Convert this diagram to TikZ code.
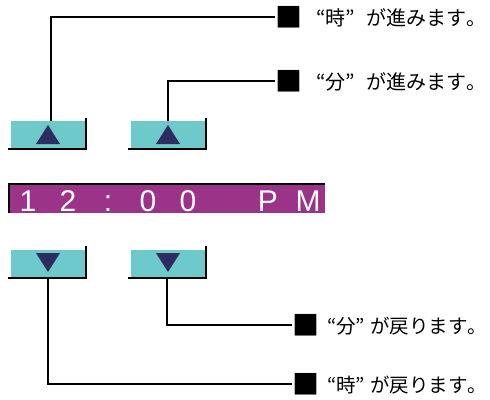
\documentclass[tikz,border=0pt]{standalone}
\usepackage{fontspec}
\setmainfont{Liberation Sans}
\newfontfamily\jpfont{Noto Sans CJK JP}
\newfontfamily\jphalt[RawFeature=+halt]{Noto Sans CJK JP}
\definecolor{btnteal}{RGB}{110,202,202}
\definecolor{tri}{RGB}{46,45,98}
\definecolor{lcd}{RGB}{155,52,137}
\newcommand\jplabel[3][0pt]{\raisebox{-2pt}{\fontsize{27}{27}\selectfont■}\hspace{\dimexpr10pt+#1\relax}“#2”\hspace{\dimexpr7pt+#1\relax}#3{\jphalt 。}}
\begin{document}
\begin{tikzpicture}[x=1pt,y=-1pt,
  btn/.style={draw=none,fill=btnteal,minimum width=74pt,minimum height=27pt,inner sep=0pt},
  shadow/.style={line width=2pt,line cap=rect},
  conn/.style={line width=2pt},
  lbl/.style={anchor=west,inner sep=0pt,font=\jpfont\fontsize{20}{24}\selectfont},
  lblsm/.style={lbl,font=\jpfont\fontsize{19.5}{24}\selectfont},
  lcdch/.style={anchor=base,inner sep=0pt,text=white,font=\fontsize{30}{32}\selectfont}]
\useasboundingbox (0,0) rectangle (490,399);
% up buttons
\node[btn] (up1) at (48,134.5) {};
\node[btn] (up2) at (168,134.5) {};
\draw[shadow] (9,149) -- (86,149) -- (86,119);
\draw[shadow] (129,149) -- (206,149) -- (206,119);
\fill[tri] (48,125) -- (60,144) -- (36,144) -- cycle;
\fill[tri] (168,125) -- (180,144) -- (156,144) -- cycle;
% down buttons
\node[btn] (dn1) at (48,263) {};
\node[btn] (dn2) at (168,263) {};
\draw[shadow] (9,278) -- (86,278) -- (86,247);
\draw[shadow] (129,278) -- (206,278) -- (206,247);
\fill[tri] (48,272) -- (60,253) -- (36,253) -- cycle;
\fill[tri] (168,272) -- (180,253) -- (156,253) -- cycle;
% display
\fill[lcd] (9,184) rectangle (325,213);
\draw[line width=2pt] (9,213) -- (9,184) -- (325,184);
\node[lcdch] (c1) at (28,211.5) {1};
\node[lcdch] (c2) at (68,211.5) {2};
\node[lcdch] (c3) at (108,211.5) {:};
\node[lcdch] (c4) at (148,211.5) {0};
\node[lcdch] (c5) at (188,211.5) {0};
\node[lcdch] (c6) at (268,211.5) {P};
\node[lcdch] (c7) at (308,211.5) {M};
% labels
\node[lbl] (l1) at (275,17) {\jplabel[4pt]{時}{が進みます}};
\node[lbl] (l2) at (275,81) {\jplabel[4pt]{分}{が進みます}};
\node[lblsm] (l3) at (292,325) {\jplabel[-2pt]{分}{が戻ります}};
\node[lblsm] (l4) at (292,384) {\jplabel[-2pt]{時}{が戻ります}};
% connectors
\coordinate (u1) at (51,121);
\coordinate (u2) at (168,121);
\coordinate (d1) at (48,278);
\coordinate (d2) at (167,278);
\draw[conn] (u1) |- (l1.west);
\draw[conn] (u2) |- (l2.west);
\draw[conn] (d1) |- (l4.west);
\draw[conn] (d2) |- (l3.west);
\end{tikzpicture}
\end{document}
